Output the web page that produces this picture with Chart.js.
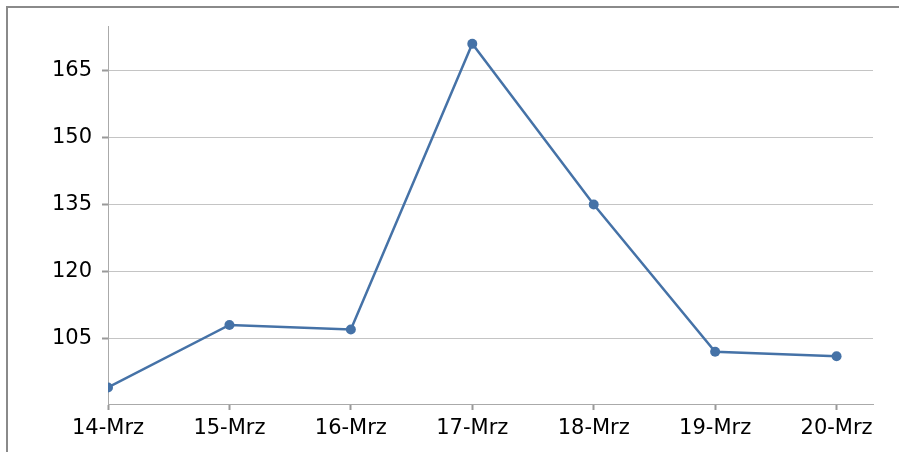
<!DOCTYPE html>
<html>
<head>
<meta charset="utf-8">
<script src="https://cdn.jsdelivr.net/npm/chart.js@4"></script>
<style>
  html, body { margin: 0; padding: 0; background: #fff; }
  #wrap { position: relative; width: 899px; height: 452px; }
  #frame {
    position: absolute; left: 6px; top: 6px; right: 0; bottom: 0;
    border-left: 2px solid #8a8a8a; border-top: 2px solid #8a8a8a;
  }
  canvas { position: absolute; left: 0; top: 0; }
</style>
</head>
<body>
<div id="wrap">
  <div id="frame"></div>
  <canvas id="chart" width="899" height="452"></canvas>
</div>
<script>
// Categories and values
const days = ['14-Mrz', '15-Mrz', '16-Mrz', '17-Mrz', '18-Mrz', '19-Mrz', '20-Mrz'];
const values = [94, 108, 107, 171, 135, 102, 101];
const yTicks = [105, 120, 135, 150, 165];

const points = values.map((v, i) => ({ x: i, y: v }));

const ctx = document.getElementById('chart').getContext('2d');
new Chart(ctx, {
  type: 'line',
  data: {
    datasets: [{
      data: points,
      borderColor: '#4572A7',
      backgroundColor: '#4572A7',
      borderWidth: 2.5,
      pointRadius: 5,
      pointBorderWidth: 0,
      tension: 0
    }]
  },
  options: {
    responsive: false,
    animation: false,
    layout: { padding: { left: 0, top: 26, right: 26, bottom: 0 } },
    plugins: { legend: { display: false }, tooltip: { enabled: false } },
    scales: {
      x: {
        type: 'linear',
        min: 0,
        max: 6.3,
        afterFit: scale => { scale.height = 48; },
        border: { color: '#aaaaaa', width: 1 },
        grid: { display: true, drawOnChartArea: false, drawTicks: true, tickLength: 6, tickColor: '#999999', tickWidth: 2 },
        ticks: {
          stepSize: 1,
          includeBounds: false,
          autoSkip: false,
          maxRotation: 0,
          padding: 6,
          color: '#000',
          font: { family: 'DejaVu Sans', size: 21 },
          callback: v => Number.isInteger(v) ? days[v] : ''
        }
      },
      y: {
        min: 90.3,
        max: 175,
        afterFit: scale => { scale.width = 108; },
        afterBuildTicks: scale => { scale.ticks = yTicks.map(v => ({ value: v })); },
        border: { color: '#aaaaaa', width: 1 },
        grid: { color: '#c4c4c4', lineWidth: 1, tickLength: 6, tickColor: '#999999', tickWidth: 2 },
        ticks: {
          padding: 10,
          color: '#000',
          font: { family: 'DejaVu Sans', size: 21 }
        }
      }
    }
  }
});
</script>
</body>
</html>
